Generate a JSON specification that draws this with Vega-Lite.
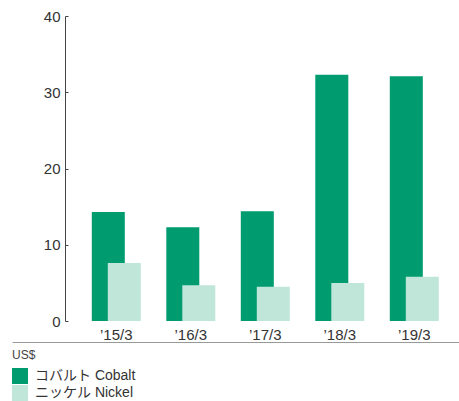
{
  "$schema": "https://vega.github.io/schema/vega-lite/v6.json",
  "autosize": {"type": "none"},
  "padding": {"left": 12, "top": 16, "right": 0, "bottom": 80},
  "width": 447,
  "height": 305,
  "config": {
    "view": {"stroke": null},
    "font": "Liberation Sans, Noto Sans CJK JP",
    "axis": {"grid": false}
  },
  "data": {
    "values": [
      {"year": "’15/3", "metal": "コバルト Cobalt", "value": 14.3},
      {"year": "’16/3", "metal": "コバルト Cobalt", "value": 12.3},
      {"year": "’17/3", "metal": "コバルト Cobalt", "value": 14.4},
      {"year": "’18/3", "metal": "コバルト Cobalt", "value": 32.3},
      {"year": "’19/3", "metal": "コバルト Cobalt", "value": 32.1},
      {"year": "’15/3", "metal": "ニッケル Nickel", "value": 7.6},
      {"year": "’16/3", "metal": "ニッケル Nickel", "value": 4.7},
      {"year": "’17/3", "metal": "ニッケル Nickel", "value": 4.5},
      {"year": "’18/3", "metal": "ニッケル Nickel", "value": 5.0},
      {"year": "’19/3", "metal": "ニッケル Nickel", "value": 5.8}
    ]
  },
  "encoding": {
    "x": {
      "field": "year", "type": "ordinal", "sort": null,
      "scale": {"paddingInner": 0, "paddingOuter": 0.5, "align": 0.9},
      "axis": {
        "title": null, "ticks": false, "labelAngle": 0,
        "offset": 21, "domainColor": "#999999", "domainWidth": 1,
        "labelPadding": -3, "labelBaseline": "alphabetic",
        "labelFontSize": 15, "labelColor": "#333333"
      }
    },
    "y": {
      "field": "value", "type": "quantitative",
      "scale": {"domain": [0, 40], "nice": false},
      "axis": {
        "title": null, "values": [0, 10, 20, 30, 40],
        "offset": -53, "tickSize": -3, "labelPadding": 8,
        "domainColor": "#444444", "tickColor": "#444444",
        "labelFontSize": 15, "labelColor": "#333333"
      }
    },
    "color": {
      "field": "metal", "type": "nominal",
      "scale": {"domain": ["コバルト Cobalt", "ニッケル Nickel"], "range": ["#009B6F", "#C0E6DA"]},
      "legend": {
        "title": "US$", "orient": "none", "legendX": 0, "legendY": 334,
        "titleFontSize": 12, "titleFontWeight": "normal", "titleColor": "#444444",
        "titlePadding": 6,
        "symbolType": "square", "symbolSize": 256, "symbolStrokeWidth": 0, "symbolOpacity": 1,
        "labelFontSize": 14, "labelColor": "#333333", "rowPadding": 1, "labelOffset": 7
      }
    }
  },
  "layer": [
    {
      "transform": [{"filter": "datum.metal === 'コバルト Cobalt'"}],
      "mark": {"type": "bar", "width": {"band": 0.443}, "xOffset": -8}
    },
    {
      "transform": [{"filter": "datum.metal === 'ニッケル Nickel'"}],
      "mark": {"type": "bar", "width": {"band": 0.443}, "xOffset": 8}
    }
  ]
}
